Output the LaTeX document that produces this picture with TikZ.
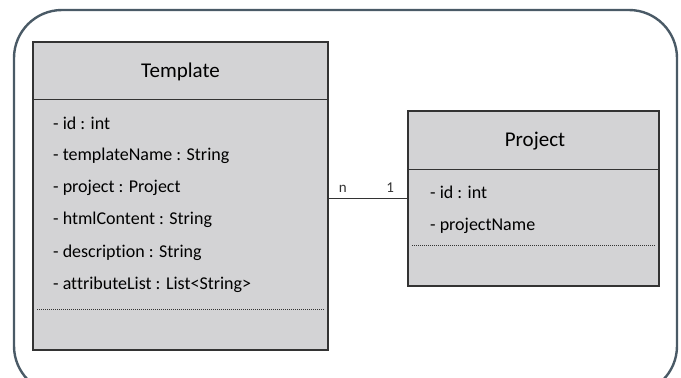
\documentclass[tikz,border=0pt]{standalone}
\usepackage{fontspec}
\setmainfont{Carlito}[Ligatures=CommonOff]
\usetikzlibrary{positioning}

\definecolor{boxgray}{HTML}{D3D3D5}
\definecolor{framecol}{HTML}{4A5A66}
\definecolor{linegray}{HTML}{333333}

\tikzset{
  classbox/.style={draw=linegray, fill=boxgray, line width=1.2pt, inner sep=0pt},
  sepline/.style={draw=linegray, line width=1.2pt},
  dotline/.style={draw=linegray, line width=0.8pt, dash pattern=on 1pt off 1pt},
  classname/.style={font=\fontsize{21}{24}\selectfont},
  attr/.style={anchor=west, inner sep=0pt, font=\fontsize{18}{20}\selectfont},
  mult/.style={font=\fontsize{15}{17}\selectfont, inner sep=5pt},
}

\begin{document}
\begin{tikzpicture}[x=1pt,y=-1pt]
    \useasboundingbox (0,0) rectangle (681,378);
    \begin{scope}
      \clip (0,0) rectangle (681,378);
      \draw[framecol, line width=2.4pt, rounded corners=48pt] (14,10) rectangle (677,394);
    \end{scope}

    % Template
    \node[classbox, minimum width=295pt, minimum height=308pt] (template) at (180.5,196) {};
    \node[classname] (templatename) at (180.5,72) {Template};
    \draw[sepline] ([yshift=-58pt]template.north west) -- ([yshift=-58pt]template.north east);
    \foreach \t [count=\i] in {- id : int, - templateName : String, - project : Project,
        - htmlContent : String, - description : String, - attributeList : List<String>}
      \node[attr] (tattr\i) at (53,{123+32.4*(\i-1)}) {\t};
    \draw[dotline] ([xshift=5pt,yshift=41pt]template.south west) -- ([xshift=-5pt,yshift=41pt]template.south east);

    % Project
    \node[classbox, minimum width=251pt, minimum height=175pt] (project) at (533.5,198.5) {};
    \node[classname] (projectname) at (535,141) {Project};
    \draw[sepline] ([yshift=-59pt]project.north west) -- ([yshift=-59pt]project.north east);
    \node[attr] (pattr1) at (430,192) {- id : int};
    \node[attr] (pattr2) at (430,226) {- projectName};
    \draw[dotline] ([xshift=5pt,yshift=41pt]project.south west) -- ([xshift=-5pt,yshift=41pt]project.south east);

    % association
    \draw[linegray, line width=1.2pt] (project.west -| template.east) -- node[mult, above, pos=0.18] {n}
      node[mult, above, pos=0.78] {1} (project.west);
\end{tikzpicture}
\end{document}
